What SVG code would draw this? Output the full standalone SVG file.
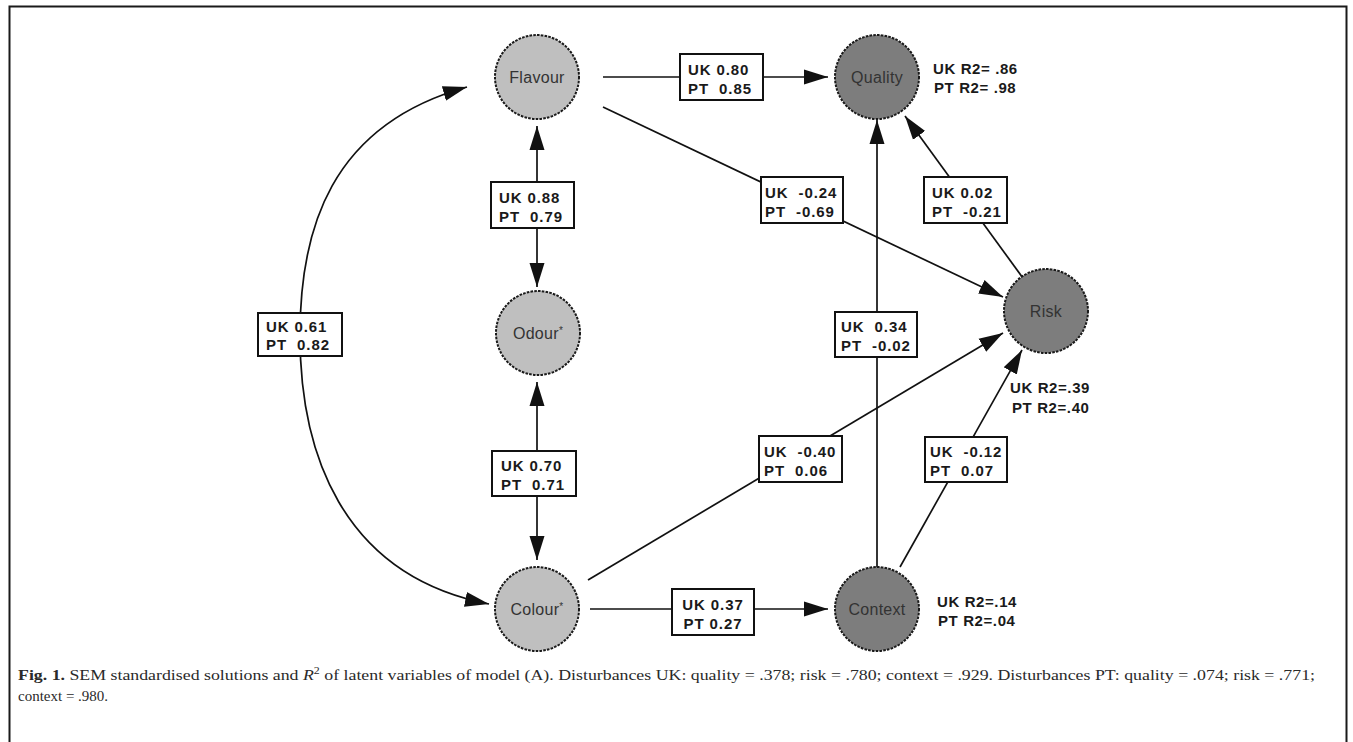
<svg xmlns="http://www.w3.org/2000/svg" width="1353" height="742" viewBox="0 0 1353 742">
<style>
.frame{fill:none;stroke:#1a1a1a;stroke-width:2}
.light{fill:#bfbfbf}
.dark{fill:#7d7d7d}
.nodeC{stroke:#1a1a1a;stroke-width:2;stroke-dasharray:2.6 1.2}
.nlab{font-family:"Liberation Sans",Arial,sans-serif;font-size:16px;fill:#333;text-anchor:middle;letter-spacing:0.3px}
.edge{fill:none;stroke:#111;stroke-width:1.7}
.box{fill:#fff;stroke:#111;stroke-width:2}
.lbl{font-family:"Liberation Sans",Arial,sans-serif;font-size:15px;font-weight:bold;fill:#1a1a1a;letter-spacing:0.9px}
.r2{font-family:"Liberation Sans",Arial,sans-serif;font-size:15px;font-weight:bold;fill:#1a1a1a;letter-spacing:0.6px}
.cap{font-family:"Liberation Serif","Times New Roman",serif;font-size:15px;fill:#2a2a2a}
</style>
<defs>
<marker id="ah" markerUnits="userSpaceOnUse" markerWidth="26" markerHeight="18" refX="24" refY="9" orient="auto-start-reverse">
<path d="M0,1.5 L24,9 L0,16.5 z" fill="#111"/>
</marker>
</defs>
<rect width="1353" height="742" fill="#fff"/>
<path class="frame" d="M9.5,742 V6.5 H1346.5 V742"/>

<g id="connectors">
<path class="edge" d="M603,77 H828" marker-end="url(#ah)"/>
<path class="edge" d="M537,126 V287" marker-start="url(#ah)" marker-end="url(#ah)"/>
<path class="edge" d="M603,107 L1003,297" marker-end="url(#ah)"/>
<path class="edge" d="M1028,285 L905,116" marker-end="url(#ah)"/>
<path class="edge" d="M877,567 V120" marker-end="url(#ah)"/>
<path class="edge" d="M537,382 V560" marker-start="url(#ah)" marker-end="url(#ah)"/>
<path class="edge" d="M588,580 L1003,333" marker-end="url(#ah)"/>
<path class="edge" d="M900,567 L1022,350" marker-end="url(#ah)"/>
<path class="edge" d="M590,609 H828" marker-end="url(#ah)"/>
<path class="edge" d="M467,87 C330,125 300,230 300,335 C300,450 340,575 489,604" marker-start="url(#ah)" marker-end="url(#ah)"/>

<g id="edge-labels">
<rect class="box" x="680" y="54" width="83" height="46"/>
<text class="lbl" x="688" y="74.5">UK 0.80</text>
<text class="lbl" x="688" y="93.5" xml:space="preserve">PT  0.85</text>

<rect class="box" x="491" y="182" width="83" height="46"/>
<text class="lbl" x="499" y="202.5">UK 0.88</text>
<text class="lbl" x="499" y="221.5" xml:space="preserve">PT  0.79</text>

<rect class="box" x="761" y="177" width="82" height="46"/>
<text class="lbl" x="765" y="197.5" xml:space="preserve">UK  -0.24</text>
<text class="lbl" x="765" y="216.5" xml:space="preserve">PT  -0.69</text>

<rect class="box" x="924" y="177" width="83" height="46"/>
<text class="lbl" x="932" y="197.5">UK 0.02</text>
<text class="lbl" x="932" y="216.5" xml:space="preserve">PT  -0.21</text>

<rect class="box" x="835" y="312" width="82" height="45"/>
<text class="lbl" x="841" y="332" xml:space="preserve">UK  0.34</text>
<text class="lbl" x="841" y="351" xml:space="preserve">PT  -0.02</text>

<rect class="box" x="258" y="313" width="84" height="43"/>
<text class="lbl" x="266" y="332">UK 0.61</text>
<text class="lbl" x="266" y="350" xml:space="preserve">PT  0.82</text>

<rect class="box" x="492" y="451" width="84" height="45"/>
<text class="lbl" x="501" y="471">UK 0.70</text>
<text class="lbl" x="501" y="490" xml:space="preserve">PT  0.71</text>

<rect class="box" x="759" y="436" width="83" height="46"/>
<text class="lbl" x="764" y="456.5" xml:space="preserve">UK  -0.40</text>
<text class="lbl" x="764" y="475.5" xml:space="preserve">PT  0.06</text>

<rect class="box" x="925" y="437" width="82" height="45"/>
<text class="lbl" x="930" y="457" xml:space="preserve">UK  -0.12</text>
<text class="lbl" x="930" y="476" xml:space="preserve">PT  0.07</text>

<rect class="box" x="672" y="589" width="82" height="46"/>
<text class="lbl" x="713" y="609.5" text-anchor="middle">UK 0.37</text>
<text class="lbl" x="713" y="628.5" text-anchor="middle">PT 0.27</text>
</g>
</g>

<g id="node-flavour">
<circle class="light nodeC" cx="537" cy="77" r="42"/>
<text class="nlab" x="537" y="82.5">Flavour</text>
</g>
<g id="node-quality">
<circle class="dark nodeC" cx="877" cy="77" r="42"/>
<text class="nlab" x="877" y="82.5">Quality</text>
<text class="r2" x="933" y="74">UK R2= .86</text>
<text class="r2" x="934" y="93">PT R2= .98</text>
</g>
<g id="node-odour">
<circle class="light nodeC" cx="538" cy="333" r="42"/>
<text class="nlab" x="538" y="338.5">Odour<tspan font-size="10" dy="-5">*</tspan></text>
</g>
<g id="node-risk">
<circle class="dark nodeC" cx="1046" cy="311" r="42"/>
<text class="nlab" x="1046" y="316.5">Risk</text>
<text class="r2" x="1010" y="393">UK R2=.39</text>
<text class="r2" x="1012" y="413">PT R2=.40</text>
</g>
<g id="node-colour">
<circle class="light nodeC" cx="537" cy="609" r="42"/>
<text class="nlab" x="537" y="614.5">Colour<tspan font-size="10" dy="-5">*</tspan></text>
</g>
<g id="node-context">
<circle class="dark nodeC" cx="877" cy="609" r="42"/>
<text class="nlab" x="877" y="614.5">Context</text>
<text class="r2" x="937" y="607">UK R2=.14</text>
<text class="r2" x="938" y="626">PT R2=.04</text>
</g>

<g id="caption">
<text class="cap" x="18" y="680" textLength="1297" lengthAdjust="spacingAndGlyphs"><tspan font-weight="bold">Fig. 1.</tspan> SEM standardised solutions and <tspan font-style="italic">R</tspan><tspan font-size="10" dy="-6">2</tspan><tspan dy="6"> of latent variables of model (A). Disturbances UK: quality = .378; risk = .780; context = .929. Disturbances PT: quality = .074; risk = .771;</tspan></text>
<text class="cap" x="18" y="701">context = .980.</text>
</g>
</svg>
